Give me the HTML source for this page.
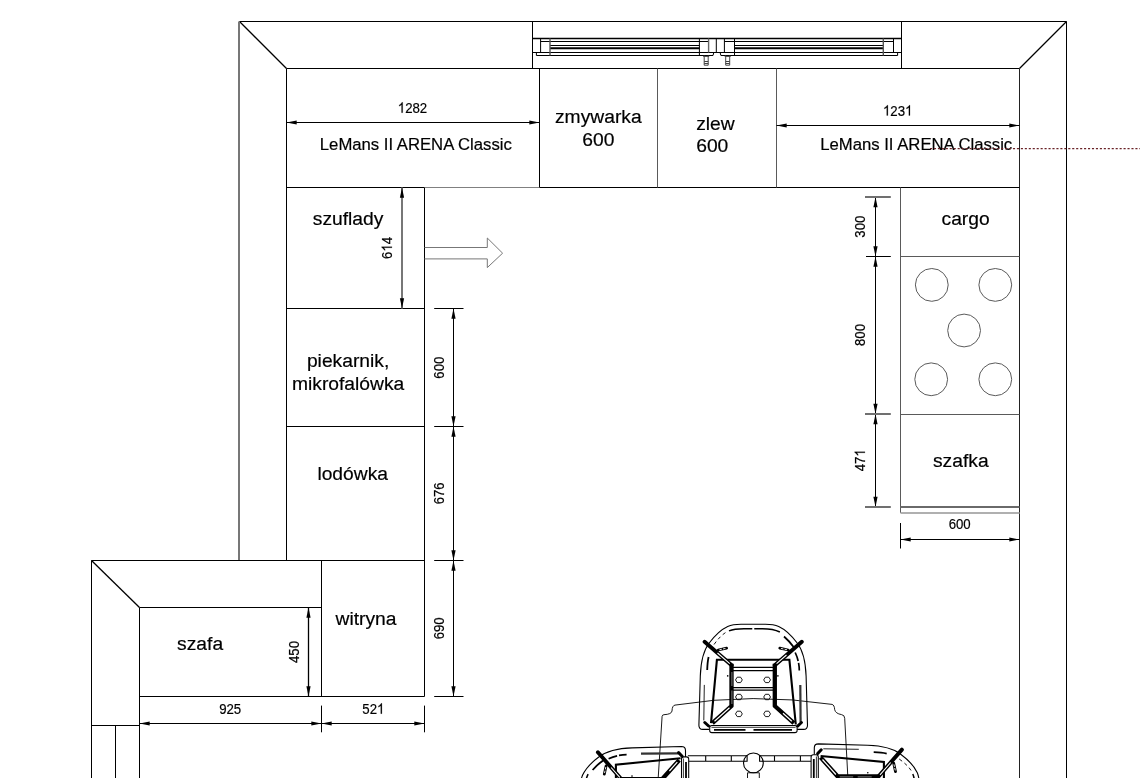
<!DOCTYPE html>
<html><head><meta charset="utf-8">
<style>
html,body{margin:0;padding:0;background:#fff;}
body{width:1140px;height:778px;overflow:hidden;position:relative;font-family:"Liberation Sans",sans-serif;}
svg{position:absolute;left:0;top:0;will-change:transform;}
text{font-family:"Liberation Sans",sans-serif;fill:#000;stroke:#000;stroke-width:0.2px;}
.k{stroke:#000;stroke-width:1;fill:none;}
.g{stroke:#5a5a5a;stroke-width:1;fill:none;}
.lg{stroke:#b0b0b0;stroke-width:1.2;fill:none;}
.t19{font-size:19.25px;}
.t16{font-size:16.7px;}
.t13{font-size:14.4px;}
.ar{fill:#000;stroke:none;}
</style></head><body>
<svg width="1140" height="778" viewBox="0 0 1140 778">
<!-- WALLS -->
<g class="k">
<path d="M239.5 21.5H1066.5V778"/>
<path d="M239.5 21.5L286.5 68.5M1066.5 21.5L1019.5 68.5" stroke-width="1.3"/>
<path d="M286.5 68.5H1019.5"/><path d="M1019.5 68.5V778" stroke="#222"/>
<path d="M286.5 68.5V560.5"/>
<path d="M286.5 187.5H424.5M539.5 187.5H1019.5"/><path d="M424.5 187.5H539.5" stroke="#808080"/>
<path d="M539.5 68.5V187.5"/>
<path d="M424.5 187.5V696.5"/>
<path d="M286.5 308.5H424.5M286.5 426.5H424.5"/>
</g>
<path d="M239 21.5V560.5" stroke="#777" stroke-width="2" fill="none"/>
<path class="g" d="M657.5 68.5V187.5M776.5 68.5V187.5"/>
<!-- WINDOW -->
<g id="window" class="k">
<path d="M532.5 21.5V68.5M901.5 21.5V68.5"/>
<path d="M532.5 38.5H901.5" stroke-width="1.3"/>
<path d="M532.5 52.5H901.5"/>
<path d="M540.6 38.5V52.5M540.6 41.5H708.6M724.4 41.5H893.5M893.5 38.5V52.5"/>
<path d="M550 45.5H699.4M734.5 45.5H883.3"/>
<path d="M550 48.3H699.4M734.5 48.3H883.3" stroke-width="2"/>
<path d="M536.4 52.5V55.5H713L713.8 52.5M897.6 52.5V55.5H720.9L720.1 52.5"/>
<path d="M550 38.5V55.5M883.3 38.5V55.5" stroke="#555" stroke-width="1.4"/>
<path d="M699.4 38.5V55.5M734.5 38.5V55.5M716.3 38.5V52.5M724.4 38.5V52.5"/>
<path d="M708.6 38.5V52.5" stroke="#666" stroke-width="1.4"/>
<path d="M703.2 56.4H709.2M704.2 55.5V65.2H708.2V55.5M704.2 61.5H708.2M704.2 63.5H708.2" stroke="#444"/>
<path d="M724.7 56.4H730.7M725.7 55.5V65.2H729.7V55.5M725.7 61.5H729.7M725.7 63.5H729.7" stroke="#444"/>
</g>
<!-- LEFT BOTTOM -->
<g class="k">
<path d="M91.5 778V560.5H424.5"/>
<path d="M91.5 560.5L139.5 607.5" stroke-width="1.3"/><path d="M139.5 607.5H321.5"/>
<path d="M139.5 607.5V778"/>
<path d="M321.5 560.5V696.5M139.5 696.5H424.5"/>
<path d="M91.5 725.5H139.5M115.5 725.5V778"/>
<path d="M321.5 705.6V732.3M424.5 705.6V732.3"/>
</g>
<!-- RIGHT COLUMN -->
<g class="g">
<path d="M900.5 187.5V513"/>
<path d="M900.5 256.5H1019.5M900.5 414.5H1019.5"/>
</g>
<path d="M900.5 507H1019.5" stroke="#6a6a6a" stroke-width="2" fill="none"/>
<path d="M900.5 513H1019.5" stroke="#b0b0b0" stroke-width="2" fill="none"/>
<g class="g">
<circle cx="931.8" cy="284.9" r="16.4"/><circle cx="995.3" cy="284.9" r="16.4"/>
<circle cx="964.1" cy="330.5" r="16.4"/>
<circle cx="931.2" cy="379.3" r="16.4"/><circle cx="995.3" cy="379.3" r="16.4"/>
</g>
<g id="dims">
<path class="k" d="M286.5 122.5H539.5"/><path class="ar" d="M286.5 122.5L296.70 120.40L296.70 124.60Z"/><path class="ar" d="M539.5 122.5L529.30 120.40L529.30 124.60Z"/>
<g transform="translate(412.5 112.7) scale(0.92 1)"><path transform="translate(-16.02 0) scale(14.4 -14.4)" d="M0.3726 0H0.2847V0.5601Q0.2529 0.5298 0.2014 0.4995T0.1089 0.4541V0.5391Q0.1821 0.5735 0.2371 0.6226T0.3149 0.7178H0.3726Z" fill="#000" stroke="#000" stroke-width="0.014"/><text class="t13" x="-8.01" y="0">2</text><text class="t13" x="0.0" y="0">8</text><text class="t13" x="8.01" y="0">2</text></g>
<path class="k" d="M776.5 125.5H1019.5"/><path class="ar" d="M776.5 125.5L786.70 123.40L786.70 127.60Z"/><path class="ar" d="M1019.5 125.5L1009.30 123.40L1009.30 127.60Z"/>
<g transform="translate(897.7 115.5) scale(0.92 1)"><path transform="translate(-16.02 0) scale(14.4 -14.4)" d="M0.3726 0H0.2847V0.5601Q0.2529 0.5298 0.2014 0.4995T0.1089 0.4541V0.5391Q0.1821 0.5735 0.2371 0.6226T0.3149 0.7178H0.3726Z" fill="#000" stroke="#000" stroke-width="0.014"/><text class="t13" x="-8.01" y="0">2</text><text class="t13" x="0.0" y="0">3</text><path transform="translate(8.01 0) scale(14.4 -14.4)" d="M0.3726 0H0.2847V0.5601Q0.2529 0.5298 0.2014 0.4995T0.1089 0.4541V0.5391Q0.1821 0.5735 0.2371 0.6226T0.3149 0.7178H0.3726Z" fill="#000" stroke="#000" stroke-width="0.014"/></g>
<path class="k" d="M139.5 723.5H321.5"/><path class="ar" d="M139.5 723.5L149.70 721.40L149.70 725.60Z"/><path class="ar" d="M321.5 723.5L311.30 721.40L311.30 725.60Z"/>
<g transform="translate(230.2 713.7) scale(0.92 1)"><text class="t13" x="-12.01" y="0">9</text><text class="t13" x="-4.0" y="0">2</text><text class="t13" x="4.0" y="0">5</text></g>
<path class="k" d="M321.5 723.5H424.5"/><path class="ar" d="M321.5 723.5L331.70 721.40L331.70 725.60Z"/><path class="ar" d="M424.5 723.5L414.30 721.40L414.30 725.60Z"/>
<g transform="translate(373.3 713.7) scale(0.92 1)"><text class="t13" x="-12.01" y="0">5</text><text class="t13" x="-4.0" y="0">2</text><path transform="translate(4.0 0) scale(14.4 -14.4)" d="M0.3726 0H0.2847V0.5601Q0.2529 0.5298 0.2014 0.4995T0.1089 0.4541V0.5391Q0.1821 0.5735 0.2371 0.6226T0.3149 0.7178H0.3726Z" fill="#000" stroke="#000" stroke-width="0.014"/></g>
<path class="k" d="M900.5 539.5H1019.5"/><path class="ar" d="M900.5 539.5L910.70 537.40L910.70 541.60Z"/><path class="ar" d="M1019.5 539.5L1009.30 537.40L1009.30 541.60Z"/>
<g transform="translate(959.7 529) scale(0.92 1)"><text class="t13" x="-12.01" y="0">6</text><text class="t13" x="-4.0" y="0">0</text><text class="t13" x="4.0" y="0">0</text></g>
<path class="k" d="M900.5 523V548.5"/>
<path d="M402 187.5 V308.5" stroke="#777" stroke-width="2" fill="none"/><path class="ar" d="M402 187.5L399.90 197.70L404.10 197.70Z"/><path class="ar" d="M402 308.5L399.90 298.30L404.10 298.30Z"/>
<g transform="translate(391.95 247.9) rotate(-90) scale(0.92 1)"><text class="t13" x="-12.01" y="0">6</text><path transform="translate(-4.0 0) scale(14.4 -14.4)" d="M0.3726 0H0.2847V0.5601Q0.2529 0.5298 0.2014 0.4995T0.1089 0.4541V0.5391Q0.1821 0.5735 0.2371 0.6226T0.3149 0.7178H0.3726Z" fill="#000" stroke="#000" stroke-width="0.014"/><text class="t13" x="4.0" y="0">4</text></g>
<path class="k" d="M453.5 308.5V426.5"/><path class="ar" d="M453.5 308.5L451.40 318.70L455.60 318.70Z"/><path class="ar" d="M453.5 426.5L451.40 416.30L455.60 416.30Z"/>
<g transform="translate(443.75 367.6) rotate(-90) scale(0.92 1)"><text class="t13" x="-12.01" y="0">6</text><text class="t13" x="-4.0" y="0">0</text><text class="t13" x="4.0" y="0">0</text></g>
<path class="k" d="M453.5 426.5V560.5"/><path class="ar" d="M453.5 426.5L451.40 436.70L455.60 436.70Z"/><path class="ar" d="M453.5 560.5L451.40 550.30L455.60 550.30Z"/>
<g transform="translate(443.75 493.3) rotate(-90) scale(0.92 1)"><text class="t13" x="-12.01" y="0">6</text><text class="t13" x="-4.0" y="0">7</text><text class="t13" x="4.0" y="0">6</text></g>
<path class="k" d="M453.5 560.5V696.5"/><path class="ar" d="M453.5 560.5L451.40 570.70L455.60 570.70Z"/><path class="ar" d="M453.5 696.5L451.40 686.30L455.60 686.30Z"/>
<g transform="translate(443.75 628.3) rotate(-90) scale(0.92 1)"><text class="t13" x="-12.01" y="0">6</text><text class="t13" x="-4.0" y="0">9</text><text class="t13" x="4.0" y="0">0</text></g>
<path class="k" d="M434.2 308.5H463.5M434.2 426.5H463.5M434.2 560.5H463.5M434.2 696.5H463.5"/>
<path class="k" style="stroke-width:1.3" d="M308.5 607.5V696.5"/><path class="ar" d="M308.5 607.5L306.40 617.70L310.60 617.70Z"/><path class="ar" d="M308.5 696.5L306.40 686.30L310.60 686.30Z"/>
<g transform="translate(298.55 652.0) rotate(-90) scale(0.92 1)"><text class="t13" x="-12.01" y="0">4</text><text class="t13" x="-4.0" y="0">5</text><text class="t13" x="4.0" y="0">0</text></g>
<path class="k" d="M875.5 197V256.5"/><path class="ar" d="M875.5 197L873.40 207.20L877.60 207.20Z"/><path class="ar" d="M875.5 256.5L873.40 246.30L877.60 246.30Z"/>
<g transform="translate(864.9499999999999 226.70000000000002) rotate(-90) scale(0.92 1)"><text class="t13" x="-12.01" y="0">3</text><text class="t13" x="-4.0" y="0">0</text><text class="t13" x="4.0" y="0">0</text></g>
<path class="k" d="M875.5 256.5V414"/><path class="ar" d="M875.5 256.5L873.40 266.70L877.60 266.70Z"/><path class="ar" d="M875.5 414L873.40 403.80L877.60 403.80Z"/>
<g transform="translate(864.9499999999999 335.0) rotate(-90) scale(0.92 1)"><text class="t13" x="-12.01" y="0">8</text><text class="t13" x="-4.0" y="0">0</text><text class="t13" x="4.0" y="0">0</text></g>
<path class="k" d="M875.5 414V507"/><path class="ar" d="M875.5 414L873.40 424.20L877.60 424.20Z"/><path class="ar" d="M875.5 507L873.40 496.80L877.60 496.80Z"/>
<g transform="translate(864.9499999999999 460.3) rotate(-90) scale(0.92 1)"><text class="t13" x="-12.01" y="0">4</text><text class="t13" x="-4.0" y="0">7</text><path transform="translate(4.0 0) scale(14.4 -14.4)" d="M0.3726 0H0.2847V0.5601Q0.2529 0.5298 0.2014 0.4995T0.1089 0.4541V0.5391Q0.1821 0.5735 0.2371 0.6226T0.3149 0.7178H0.3726Z" fill="#000" stroke="#000" stroke-width="0.014"/></g>
<path d="M865 197H890.8M865 414H890.8M865 507H890.8" stroke="#707070" stroke-width="2" fill="none"/>
<path class="k" d="M866 256.5H890.8"/>
<text class="t16" transform="translate(415.8 149.5) scale(1.0 1)" text-anchor="middle">LeMans II ARENA Classic</text>
<text class="t16" transform="translate(916.2 149.5) scale(1.0 1)" text-anchor="middle">LeMans II ARENA Classic</text>
<text class="t19" transform="translate(598.3 123.0) scale(1.0 1)" text-anchor="middle">zmywarka</text>
<text class="t19" transform="translate(598.3 146.4) scale(1.0 1)" text-anchor="middle">600</text>
<text class="t19" transform="translate(696.2 129.9) scale(1.0 1)" text-anchor="start">zlew</text>
<text class="t19" transform="translate(696.2 152.3) scale(1.0 1)" text-anchor="start">600</text>
<text class="t19" transform="translate(348.1 224.9) scale(1.0 1)" text-anchor="middle">szuflady</text>
<text class="t19" transform="translate(348.1 366.6) scale(1.0 1)" text-anchor="middle">piekarnik,</text>
<text class="t19" transform="translate(348.1 389.9) scale(1.0 1)" text-anchor="middle">mikrofalówka</text>
<text class="t19" transform="translate(352.7 480.2) scale(1.0 1)" text-anchor="middle">lodówka</text>
<text class="t19" transform="translate(200.1 649.7) scale(1.0 1)" text-anchor="middle">szafa</text>
<text class="t19" transform="translate(366 625.1) scale(1.0 1)" text-anchor="middle">witryna</text>
<text class="t19" transform="translate(965.6 224.9) scale(1.0 1)" text-anchor="middle">cargo</text>
<text class="t19" transform="translate(960.8 466.6) scale(1.0 1)" text-anchor="middle">szafka</text>
<path d="M424.5 247.5H487.3V238L502.6 253.2L487.3 267.6V258.9H424.5" stroke="#777" stroke-width="1" fill="none"/>
<path d="M930 148.6H1140" stroke="#6a2428" stroke-width="1.1" stroke-dasharray="2.1 1.85" fill="none"/>
</g>
<!-- TABLE + CHAIRS -->
<defs><g id="chair"><path d="M709.5 729.4H702.8Q698.9 729.4 698.9 725.2L700.3 676C700.8 662 703 651 709.2 643C714 636.5 721 629.5 727.7 626.4C732 624.6 736 624.3 741 624.3H765.4C770.4 624.3 774.4 624.6 778.7 626.4C785.4 629.5 792.4 636.5 797.2 643C803.4 651 805.6 662 806.1 676L807.5 725.2Q807.5 729.4 803.6 729.4H796.9" stroke="#000" stroke-width="1.1" fill="none"/>
<path d="M707.2 670C707.4 664 707.9 660 708.6 657" stroke="#000" stroke-width="1.8" fill="none"/>
<path d="M714 644.5C718 639 722 634.5 726.5 632" stroke="#000" stroke-width="0.9" stroke-dasharray="3.5 3" fill="none"/>
<path d="M729 630.9C733 629.2 738 628.7 744 628.7H762.4C769.4 628.7 775.4 629.6 780.4 632.3" stroke="#000" stroke-width="1.5" stroke-dasharray="23.5 2 26 2.5 3 40" fill="none"/>
<path d="M784 636.5C788 640 790.4 642.5 793.6 647" stroke="#000" stroke-width="1.8" fill="none"/>
<path d="M795.2 652.5C797.8 658 799.2 664 799.3 670.5" stroke="#000" stroke-width="1.7" stroke-dasharray="9 2 8 2" fill="none"/>
<path d="M704.3 684.9L703.8 720.4" stroke="#222" stroke-width="1" fill="none"/>
<path d="M800.3 684.9L800.6 722" stroke="#333" stroke-width="2.2" fill="none"/>
<path d="M711 723.1L716.9 659.8H789.4L795.8 724.5" stroke="#000" stroke-width="2.1" fill="none" stroke-linejoin="miter"/>
<path d="M731.5 667.4H774.8M731.5 670.7H774.8M731.5 687.6H774.8M731.5 690.1H774.8" stroke="#000" stroke-width="1.2" fill="none"/>
<path d="M712.4 723.1L731.5 706V663.8M793.9 723.1L774.8 706V663.8" stroke="#000" stroke-width="4.3" fill="none" stroke-linejoin="round"/>
<path d="M714.5 721.2L729.5 707.8M791.8 721.2L783 713.3" stroke="#fff" stroke-width="1.2" fill="none"/>
<path d="M731.9 704V690.5M731.9 686V672" stroke="#fff" stroke-width="0.5" fill="none"/>
<path d="M704.6 641.8L731.6 665.3M801.8 641.8L774.8 665.3" stroke="#000" stroke-width="3.9" fill="none" stroke-linecap="round"/>
<path d="M717.5 653L729.8 663.7M786.5 655L776.6 663.7" stroke="#fff" stroke-width="1.1" fill="none"/>
<path d="M718.2 650L726.6 648.2M788.2 650L779.8 648.2" stroke="#000" stroke-width="2.8" fill="none" stroke-linecap="round"/>
<path d="M719.4 649.75L725.6 648.4M787 649.75L780.8 648.4" stroke="#fff" stroke-width="0.9" fill="none" stroke-dasharray="2.5 1.2"/>
<polygon points="735.50,679.90 737.20,677.20 740.60,677.20 742.30,679.90 740.60,682.60 737.20,682.60" stroke="#000" stroke-width="0.9" fill="none" stroke-linejoin="round"/>
<polygon points="735.50,697.00 737.20,694.30 740.60,694.30 742.30,697.00 740.60,699.70 737.20,699.70" stroke="#000" stroke-width="0.9" fill="none" stroke-linejoin="round"/>
<polygon points="735.50,713.90 737.20,711.20 740.60,711.20 742.30,713.90 740.60,716.60 737.20,716.60" stroke="#000" stroke-width="0.9" fill="none" stroke-linejoin="round"/>
<polygon points="763.70,679.90 765.40,677.20 768.80,677.20 770.50,679.90 768.80,682.60 765.40,682.60" stroke="#000" stroke-width="0.9" fill="none" stroke-linejoin="round"/>
<polygon points="763.70,697.00 765.40,694.30 768.80,694.30 770.50,697.00 768.80,699.70 765.40,699.70" stroke="#000" stroke-width="0.9" fill="none" stroke-linejoin="round"/>
<polygon points="763.70,713.90 765.40,711.20 768.80,711.20 770.50,713.90 768.80,716.60 765.40,716.60" stroke="#000" stroke-width="0.9" fill="none" stroke-linejoin="round"/>
<rect x="709.7" y="725.4" width="87.4" height="7.2" rx="2.2" stroke="#000" stroke-width="1.05" fill="#fff"/>
<path d="M711.5 727.3H795.5" stroke="#000" stroke-width="0.8" fill="none"/>
<path d="M714 729.9H745.5M753.5 729.9H792" stroke="#000" stroke-width="1.8" fill="none"/>
<path d="M704.8 722.5L708.6 726M801.4 722.5L797.8 726" stroke="#000" stroke-width="3" stroke-linecap="round" fill="none"/>
<circle cx="727.7" cy="675.9" r="0.8" fill="#000"/><circle cx="777.9" cy="675.9" r="0.8" fill="#000"/></g></defs>
<path d="M658.2 778L662.1 716.3Q662.3 714.8 664 714.7Q671.5 714.3 672 711Q672.2 705.5 675 705.1Q752.7 692.4 832.1 704.4Q834.4 705 834.7 709.7Q835.5 713.6 841.5 714.6Q844.6 715 844.7 718.3L847.9 778" stroke="#000" stroke-width="0.9" fill="none"/>
<path d="M687.9 755.7H747.1V761.2H687.9M811.6 755.7H759.6V761.2H811.6M705.7 755.7V761.2M731.3 755.7V761.2M774.5 755.7V761.2M800.4 755.7V761.2" stroke="#000" stroke-width="1.1" fill="none"/>
<circle cx="753.4" cy="762.9" r="9.9" stroke="#000" stroke-width="1.1" fill="none"/>
<path d="M747.5 772.8V778M759.3 772.8V778M747.5 772.8H759.3" stroke="#000" stroke-width="0.9" fill="none"/>
<use href="#chair"/>
<use href="#chair" transform="matrix(0 -1 1 0 -43.90 1554.00)"/>
<use href="#chair" transform="matrix(0 1 -1 0 1543.70 45.00)"/>
</svg>
</body></html>
